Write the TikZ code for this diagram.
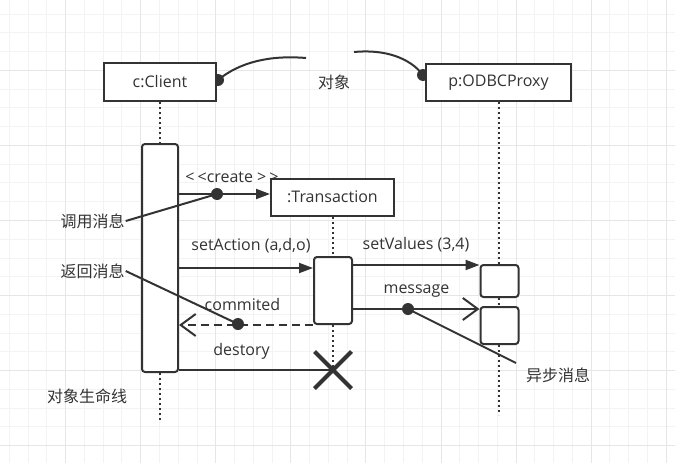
\documentclass[tikz,border=0pt]{standalone}
\usepackage{fontspec}
\setmainfont{Open Sans}
\newfontfamily\cjk{Noto Sans CJK SC}
\usepackage{xcolor}
\usetikzlibrary{arrows.meta, positioning, shapes.misc}
\definecolor{ink}{HTML}{333333}
\definecolor{gridminor}{HTML}{F3F3F3}
\definecolor{gridmajor}{HTML}{E6E6E6}

\begin{document}
\begin{tikzpicture}[x=1pt,y=-1pt,>=Stealth,
    font=\fontsize{16}{19}\selectfont,text=ink,
    objbox/.style={draw=ink,line width=2pt,fill=white,inner sep=0pt},
    actbar/.style={draw=ink,line width=2pt,fill=white,rounded corners=3pt,
                   minimum width=38pt,inner sep=0pt},
    lifeline/.style={draw=ink,line width=2pt,dash pattern=on 2pt off 3pt},
    msgline/.style={draw=ink,line width=2pt},
    call/.style={msgline,-{Triangle[length=14pt,width=10pt]}},
    async/.style={msgline,-{Straight Barb[length=15pt,width=22pt]}},
    reply/.style={async,dash pattern=on 8pt off 5pt},
    dot/.style={circle,fill=ink,inner sep=0pt,minimum size=12pt},
    lbl/.style={inner sep=1pt}]
  \useasboundingbox (0,0) rectangle (675,463);
  % background grid
  \foreach \i in {0,...,35}
    \draw[gridminor,line width=1pt] ({9.3+18.77*\i},0) -- ({9.3+18.77*\i},463);
  \foreach \j in {0,...,23}
    \draw[gridminor,line width=1pt] (0,{14+18.77*\j}) -- (675,{14+18.77*\j});
  \foreach \i in {3,7,...,35}
    \draw[gridmajor,line width=1pt] ({9.3+18.77*\i},0) -- ({9.3+18.77*\i},463);
  \foreach \j in {3,7,...,23}
    \draw[gridmajor,line width=1pt] (0,{14+18.77*\j}) -- (675,{14+18.77*\j});

  % note on the objects
  \node[dot] (clientDot) at (218,80) {};
  \node[dot] (odbcDot) at (423,75) {};
  \coordinate (noteA) at (306,58);
  \coordinate (noteB) at (354,52);
  \draw[msgline] (clientDot.center) .. controls (240,62) and (270,55) .. (noteA);
  \draw[msgline] (noteB) .. controls (385,49) and (410,58) .. (odbcDot.center);
  \node[lbl] (noteLbl) at (334,82) {\cjk 对象};
  \node[lbl] (createLbl) at (232,177) {<\kern3pt<create >\kern3pt>};

  % objects and activations
  \node[objbox,minimum width=112pt,minimum height=38pt] (client) at (160,82) {c:Client};
  \node[objbox,minimum width=145pt,minimum height=37pt] (odbc) at (498.5,82.5) {p:ODBCProxy};
  \node[objbox,minimum width=123pt,minimum height=37pt] (tx) at (332.5,197) {:Transaction};
  \node[actbar,minimum width=36pt,minimum height=228pt] (clientBar) at (160,258) {};
  \node[actbar,minimum height=67pt] (txBar) at (333,290.5) {};
  \node[actbar,minimum height=32pt] (odbcBar1) at (499.5,281) {};
  \node[actbar,minimum height=37pt] (odbcBar2) at (499.5,325.5) {};
  \node[cross out,draw=ink,line width=4pt,minimum size=33pt,inner sep=0pt]
    (kill) at (333,370) {};

  % lifelines
  \coordinate (clientEnd) at (160,422);
  \coordinate (odbcEnd) at (498.5,415);
  \draw[lifeline] (client.south) -- (client.south |- clientBar.north);
  \draw[lifeline] (clientBar.south) -- (clientEnd);
  \draw[lifeline] (tx.south) -- (tx.south |- txBar.north);
  \draw[lifeline] (txBar.south) -- (kill.center);
  \draw[lifeline] (odbc.south) -- (odbc.south |- odbcBar1.north);
  \draw[lifeline] (odbc.south |- odbcBar1.south) -- (odbc.south |- odbcBar2.north);
  \draw[lifeline] (odbc.south |- odbcBar2.south) -- (odbcEnd);

  % messages
  \node[dot] (createDot) at (217,194) {};
  \draw[call] (clientBar.east |- createDot) -- (tx.west |- createDot);

  \coordinate (actIn) at ([yshift=-12pt]txBar.north west);
  \draw[call] (clientBar.east |- actIn) -- (actIn);
  \node[lbl] (actLbl) at (251,246) {setAction (a,d,o)};

  \coordinate (valIn) at ([yshift=-1pt]odbcBar1.north west);
  \draw[call] (txBar.east |- valIn) -- (valIn);
  \node[lbl] (valLbl) at (416,245) {setValues (3,4)};

  \node[dot] (msgDot) at (408,309) {};
  \coordinate (msgIn) at (odbcBar2.north west |- msgDot);
  \draw[async] (txBar.east |- msgDot) -- (msgIn);
  \node[lbl] (msgLbl) at (416.5,291) {message};

  \node[dot] (retDot) at (238,324) {};
  \draw[reply] (txBar.south west) -- (clientBar.east |- txBar.south west);
  \node[lbl] (retMsgLbl) at (242.5,304) {commited};

  \draw[msgline] (clientBar.east |- kill) -- (kill.center);
  \node[lbl] (killLbl) at (241.5,351) {destory};

  % notes
  \node[lbl] (callLbl) at (92.5,221) {\cjk 调用消息};
  \draw[msgline] (callLbl.east) -- (createDot.center);
  \node[lbl] (retLbl) at (92.5,271) {\cjk 返回消息};
  \draw[msgline] (retLbl.east) -- (retDot.center);
  \coordinate (asyncEnd) at (516,363);
  \draw[msgline] (msgDot.center) -- (asyncEnd);
  \node[lbl] (asyncLbl) at (558,375) {\cjk 异步消息};
  \node[lbl] (lifeLbl) at (87,396) {\cjk 对象生命线};
\end{tikzpicture}
\end{document}
